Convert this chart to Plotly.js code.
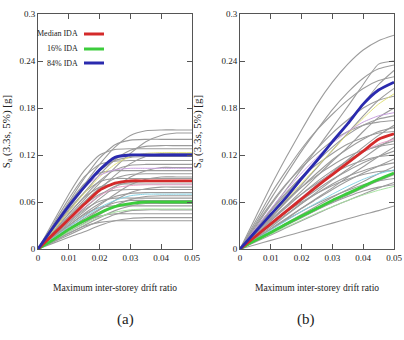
<!DOCTYPE html>
<html>
<head>
<meta charset="utf-8">
<script src="https://cdn.plot.ly/plotly-3.0.1.min.js"></script>
<style>
  html, body { margin: 0; padding: 0; background: #fff; }
  #chart { width: 404px; height: 340px; }
</style>
</head>
<body>
<div id="chart"></div>
<script>
// Maximum inter-storey drift ratio, common sampling of every IDA curve
const drift = [0, 0.005, 0.01, 0.015, 0.02, 0.025, 0.03, 0.035, 0.04, 0.045, 0.05];

// (a) individual IDA curves, Sa [g]
const idaA = [
  [0, .027, .055, .082, .108, .130, .145, .151, .152, .152, .152],
  [0, .021, .042, .063, .084, .104, .122, .137, .145, .148, .148],
  [0, .030, .060, .090, .116, .133, .139, .140, .140, .140, .140],
  [0, .024, .048, .072, .095, .114, .126, .131, .132, .132, .132],
  [0, .035, .070, .100, .120, .127, .128, .128, .128, .128, .128],
  [0, .019, .038, .057, .076, .094, .109, .118, .122, .122, .122],
  [0, .026, .052, .078, .100, .113, .117, .118, .118, .118, .118],
  [0, .032, .064, .092, .108, .112, .113, .113, .113, .113, .113],
  [0, .022, .045, .067, .087, .101, .107, .108, .108, .108, .108],
  [0, .016, .032, .048, .064, .079, .092, .100, .104, .104, .104],
  [0, .029, .058, .083, .097, .100, .100, .100, .100, .100, .100],
  [0, .020, .040, .060, .078, .090, .095, .096, .096, .096, .096],
  [0, .014, .028, .042, .056, .070, .082, .089, .092, .092, .092],
  [0, .025, .050, .072, .086, .090, .090, .090, .090, .090, .090],
  [0, .017, .035, .052, .068, .080, .085, .086, .086, .086, .086],
  [0, .022, .045, .066, .079, .083, .083, .083, .083, .083, .083],
  [0, .012, .025, .037, .050, .062, .072, .077, .079, .079, .079],
  [0, .019, .038, .056, .070, .075, .076, .076, .076, .076, .076],
  [0, .015, .030, .045, .058, .067, .071, .072, .072, .072, .072],
  [0, .011, .022, .033, .044, .055, .063, .067, .068, .068, .068],
  [0, .017, .034, .050, .061, .065, .065, .065, .065, .065, .065],
  [0, .013, .026, .039, .051, .059, .062, .062, .062, .062, .062],
  [0, .010, .020, .030, .040, .049, .055, .058, .058, .058, .058],
  [0, .015, .030, .044, .053, .055, .055, .055, .055, .055, .055],
  [0, .009, .018, .027, .036, .044, .049, .050, .050, .050, .050],
  [0, .012, .024, .035, .042, .045, .045, .045, .045, .045, .045],
  [0, .0075, .015, .022, .030, .036, .039, .040, .040, .040, .040],
  [0, .010, .020, .029, .034, .036, .036, .036, .036, .036, .036]
];
const tintA = [
  [0, .024, .048, .071, .092, .108, .118, .122, .123, .123, .123],
  [0, .027, .054, .078, .094, .101, .103, .103, .103, .103, .103],
  [0, .018, .036, .053, .068, .078, .081, .082, .082, .082, .082],
  [0, .014, .028, .041, .053, .062, .068, .070, .070, .070, .070],
  [0, .011, .022, .032, .041, .047, .050, .051, .051, .051, .051]
];
const tintColorsA = ['#e2e27a', '#c9a0e0', '#e8a0c8', '#86d4e6', '#a6e3a0'];
const medianA = [0, .019, .038, .057, .075, .084, .087, .087, .087, .087, .087];
const p16A    = [0, .012, .025, .036, .046, .054, .058, .060, .060, .060, .060];
const p84A    = [0, .028, .055, .079, .101, .117, .120, .120, .120, .120, .120];

// (b) individual IDA curves, Sa [g]
const idaB = [
  [0, .040, .080, .117, .152, .185, .213, .236, .254, .266, .273],
  [0, .025, .050, .076, .102, .128, .155, .182, .210, .236, .240],
  [0, .032, .064, .095, .125, .152, .178, .200, .218, .230, .235],
  [0, .022, .044, .067, .090, .113, .137, .160, .185, .210, .228],
  [0, .035, .070, .100, .128, .152, .172, .190, .205, .215, .220],
  [0, .020, .040, .061, .082, .104, .126, .148, .170, .190, .205],
  [0, .028, .056, .082, .106, .128, .148, .165, .180, .190, .195],
  [0, .018, .036, .055, .074, .093, .112, .130, .150, .168, .180],
  [0, .024, .048, .070, .092, .112, .130, .146, .158, .166, .170],
  [0, .030, .058, .083, .104, .122, .138, .150, .158, .162, .164],
  [0, .016, .032, .048, .065, .082, .098, .114, .130, .145, .158],
  [0, .020, .040, .060, .079, .097, .114, .128, .140, .150, .155],
  [0, .026, .050, .072, .092, .108, .122, .134, .142, .148, .150],
  [0, .014, .028, .043, .058, .073, .088, .102, .116, .130, .142],
  [0, .018, .036, .053, .070, .086, .100, .113, .124, .132, .138],
  [0, .022, .043, .062, .079, .094, .107, .118, .126, .131, .134],
  [0, .012, .025, .038, .052, .065, .078, .092, .105, .118, .130],
  [0, .016, .032, .047, .062, .076, .089, .100, .110, .118, .125],
  [0, .020, .038, .055, .070, .084, .096, .106, .113, .118, .120],
  [0, .013, .026, .039, .052, .064, .076, .087, .097, .106, .115],
  [0, .015, .030, .044, .058, .071, .083, .093, .100, .106, .110],
  [0, .011, .022, .033, .044, .055, .066, .076, .086, .096, .105],
  [0, .017, .033, .047, .060, .071, .081, .089, .095, .099, .100],
  [0, .010, .020, .030, .040, .050, .060, .069, .078, .087, .095],
  [0, .013, .025, .037, .048, .058, .067, .075, .082, .087, .090],
  [0, .009, .018, .027, .036, .045, .054, .062, .070, .078, .085],
  [0, .011, .021, .031, .041, .050, .059, .067, .074, .079, .082],
  [0, .0055, .011, .0165, .022, .0275, .033, .0385, .044, .049, .055]
];
const tintB = [
  [0, .021, .042, .063, .084, .105, .126, .147, .167, .185, .198],
  [0, .026, .051, .075, .097, .117, .135, .150, .162, .170, .174],
  [0, .017, .034, .050, .066, .082, .097, .111, .124, .134, .140],
  [0, .012, .024, .036, .048, .059, .070, .080, .089, .096, .101],
  [0, .010, .019, .028, .037, .046, .054, .062, .069, .075, .080]
];
const tintColorsB = ['#e2e27a', '#c9a0e0', '#e8a0c8', '#86d4e6', '#a6e3a0'];
const medianB = [0, .016, .032, .048, .064, .080, .095, .110, .125, .140, .147];
const p16B    = [0, .011, .021, .032, .042, .052, .062, .071, .080, .089, .097];
const p84B    = [0, .022, .044, .066, .090, .113, .137, .160, .185, .203, .213];

// Legend entries (drawn inside panel a)
const legendNames  = ['Median IDA', '16% IDA', '84% IDA'];
const legendColors = ['#d42a2a', '#3ccc3c', '#2a2aae'];

const yTicks = [0, 0.06, 0.12, 0.18, 0.24, 0.3];
const yTickText = ['0', '0.06', '0.12', '0.18', '0.24', '0.3'];
const xTicks = [0, 0.01, 0.02, 0.03, 0.04, 0.05];
const xTickText = ['0', '0.01', '0.02', '0.03', '0.04', '0.05'];

const GRAY = '#9c9c9c';
const SERIF = 'Liberation Serif, Times New Roman, serif';

function line(y, color, width, xa, ya) {
  return {
    x: drift, y: y, xaxis: xa, yaxis: ya, type: 'scatter', mode: 'lines',
    line: { color: color, width: width, shape: 'spline', smoothing: 0.6 },
    hoverinfo: 'skip', showlegend: false
  };
}

const traces = [];
function panel(ida, tint, tintColors, med, p16, p84, xa, ya) {
  ida.forEach(c => traces.push(line(c, GRAY, 1.1, xa, ya)));
  tint.forEach((c, i) => traces.push(line(c, tintColors[i], 1, xa, ya)));
  traces.push(line(p16, legendColors[1], 2.8, xa, ya));
  traces.push(line(med, legendColors[0], 2.8, xa, ya));
  traces.push(line(p84, legendColors[2], 2.8, xa, ya));
}
panel(idaA, tintA, tintColorsA, medianA, p16A, p84A, 'x', 'y');
panel(idaB, tintB, tintColorsB, medianB, p16B, p84B, 'x2', 'y2');

const W = 404, H = 340;
const px = v => v / W;
const py = v => 1 - v / H;

function xAxis(domain, anchor) {
  return {
    domain: domain, anchor: anchor, range: [0, 0.05],
    tickvals: xTicks, ticktext: xTickText,
    ticks: 'inside', ticklen: 5, tickcolor: '#555', mirror: 'allticks',
    showline: true, linecolor: '#555', linewidth: 1, showgrid: false, zeroline: false,
    tickfont: { family: SERIF, size: 9, color: '#222' },
    title: { text: 'Maximum inter-storey drift ratio', font: { family: SERIF, size: 9.5, color: '#222' }, standoff: 22 }
  };
}
function yAxis(anchor) {
  return {
    domain: [py(249), py(14)], anchor: anchor, range: [0, 0.3],
    tickvals: yTicks, ticktext: yTickText,
    ticks: 'inside', ticklen: 5, tickcolor: '#555', mirror: 'allticks',
    showline: true, linecolor: '#555', linewidth: 1, showgrid: false, zeroline: false,
    tickfont: { family: SERIF, size: 9, color: '#222' },
    title: { text: 'S<sub>a</sub> (3.3s, 5%) [g]', font: { family: SERIF, size: 11, color: '#222' }, standoff: 17 }
  };
}

const annotations = [
  { text: '(a)', x: px(115), y: py(330), xref: 'paper', yref: 'paper', showarrow: false,
    font: { family: SERIF, size: 15, color: '#222' } },
  { text: '(b)', x: px(317), y: py(330), xref: 'paper', yref: 'paper', showarrow: false,
    font: { family: SERIF, size: 15, color: '#222' } }
];
const shapes = [];
const legendRows = [34, 49, 63];
legendNames.forEach((name, i) => {
  annotations.push({
    text: name, x: px(80), y: py(legendRows[i]), xref: 'paper', yref: 'paper',
    xanchor: 'right', yanchor: 'middle', showarrow: false,
    font: { family: SERIF, size: 8, color: '#222' }
  });
  shapes.push({
    type: 'line', xref: 'paper', yref: 'paper',
    x0: px(84), x1: px(104), y0: py(legendRows[i]), y1: py(legendRows[i]),
    line: { color: legendColors[i], width: 3 }
  });
});

const layout = {
  width: W, height: H,
  margin: { l: 0, r: 0, t: 0, b: 0 },
  paper_bgcolor: '#fff', plot_bgcolor: '#fff',
  showlegend: false,
  xaxis: xAxis([px(38), px(192)], 'y'),
  yaxis: yAxis('x'),
  xaxis2: xAxis([px(240), px(394)], 'y2'),
  yaxis2: yAxis('x2'),
  annotations: annotations,
  shapes: shapes
};

Plotly.newPlot('chart', traces, layout, { staticPlot: true, displayModeBar: false });
</script>
</body>
</html>
